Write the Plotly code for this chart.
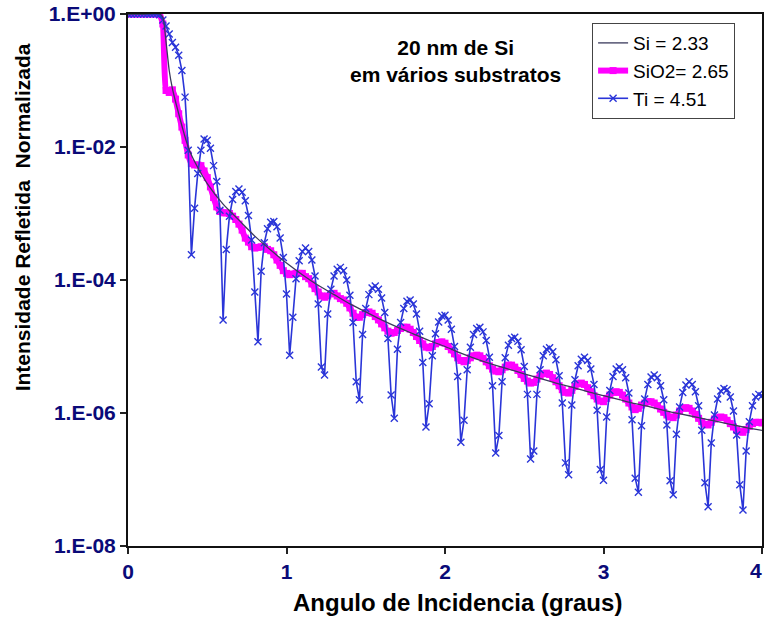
import numpy as np
import plotly.graph_objects as go

# ---- data (log10 of normalised reflected intensity) ----
# common angle grid for the SiO2 and Ti series (degrees), step 0.02
angle_deg = [round(0.02 * i, 2) for i in range(201)]

ti_log10 = [
    0, 0, 0, 0, 0, 0, 0, 0, 0, 0,
    -0.01, -0.09, -0.18, -0.30, -0.43, -0.50, -0.62, -0.85, -1.25, -2.05,
    -3.62, -2.92, -2.40, -2.05, -1.88, -1.90, -2.02, -2.28, -2.52, -2.95,
    -4.60, -3.54, -3.04, -2.79, -2.67, -2.63, -2.68, -2.81, -3.03, -3.40,
    -4.18, -4.93, -3.87, -3.44, -3.23, -3.13, -3.12, -3.20, -3.37, -3.66,
    -4.21, -5.13, -4.56, -3.98, -3.71, -3.57, -3.52, -3.57, -3.70, -3.94,
    -4.36, -5.31, -5.43, -4.51, -4.14, -3.94, -3.84, -3.81, -3.86, -4.00,
    -4.23, -4.64, -5.53, -5.80, -4.82, -4.43, -4.22, -4.12, -4.09, -4.14,
    -4.27, -4.49, -4.88, -5.73, -6.08, -5.04, -4.64, -4.43, -4.32, -4.30,
    -4.36, -4.51, -4.77, -5.24, -6.21, -5.86, -5.14, -4.81, -4.63, -4.54,
    -4.53, -4.60, -4.74, -5.00, -5.45, -6.44, -6.11, -5.35, -5.01, -4.82,
    -4.73, -4.71, -4.78, -4.91, -5.16, -5.59, -6.60, -6.34, -5.53, -5.17,
    -4.98, -4.88, -4.86, -4.92, -5.05, -5.30, -5.72, -6.69, -6.57, -5.72,
    -5.35, -5.14, -5.04, -5.02, -5.08, -5.20, -5.44, -5.85, -6.75, -6.93,
    -5.88, -5.50, -5.29, -5.19, -5.16, -5.21, -5.34, -5.57, -5.96, -6.85,
    -7.01, -6.06, -5.66, -5.45, -5.34, -5.31, -5.35, -5.47, -5.70, -6.10,
    -6.98, -7.19, -6.19, -5.79, -5.57, -5.46, -5.43, -5.47, -5.59, -5.80,
    -6.18, -7.02, -7.23, -6.32, -5.91, -5.69, -5.58, -5.53, -5.57, -5.68,
    -5.89, -6.26, -7.05, -7.41, -6.45, -6.03, -5.79, -5.67, -5.63, -5.65,
    -5.76, -5.97, -6.33, -7.08, -7.46, -6.57, -6.13, -5.89, -5.76, -5.72,
    -5.74,
]

sio2_log10 = [
    0, 0, 0, 0, 0, 0, 0, 0, 0, 0,
    -0.01, -0.15, -1.15, -1.18, -1.14, -1.28, -1.50, -1.70, -1.90, -2.12,
    -2.25, -2.27, -2.27, -2.28, -2.36, -2.46, -2.60, -2.76, -2.90, -2.97,
    -2.99, -2.99, -3.00, -3.04, -3.09, -3.16, -3.25, -3.37, -3.43, -3.50,
    -3.52, -3.51, -3.50, -3.50, -3.54, -3.56, -3.62, -3.70, -3.78, -3.86,
    -3.90, -3.92, -3.91, -3.90, -3.90, -3.90, -3.95, -3.98, -4.06, -4.13,
    -4.18, -4.24, -4.26, -4.24, -4.21, -4.20, -4.24, -4.28, -4.30, -4.35,
    -4.42, -4.50, -4.56, -4.56, -4.52, -4.49, -4.48, -4.50, -4.55, -4.60,
    -4.66, -4.72, -4.77, -4.80, -4.79, -4.76, -4.73, -4.71, -4.71, -4.74,
    -4.79, -4.85, -4.91, -4.96, -5.01, -5.02, -5.00, -4.96, -4.94, -4.93,
    -4.95, -5.00, -5.05, -5.11, -5.17, -5.21, -5.23, -5.21, -5.17, -5.14,
    -5.13, -5.14, -5.18, -5.23, -5.29, -5.34, -5.37, -5.38, -5.35, -5.31,
    -5.28, -5.28, -5.31, -5.36, -5.42, -5.48, -5.52, -5.55, -5.54, -5.49,
    -5.44, -5.41, -5.40, -5.42, -5.47, -5.53, -5.59, -5.65, -5.69, -5.70,
    -5.66, -5.60, -5.56, -5.55, -5.57, -5.62, -5.68, -5.74, -5.79, -5.82,
    -5.83, -5.78, -5.73, -5.69, -5.68, -5.69, -5.73, -5.79, -5.85, -5.91,
    -5.95, -5.93, -5.88, -5.85, -5.83, -5.83, -5.85, -5.89, -5.94, -5.99,
    -6.03, -6.06, -6.07, -6.03, -5.97, -5.93, -5.92, -5.93, -5.97, -6.02,
    -6.08, -6.13, -6.17, -6.18, -6.14, -6.09, -6.07, -6.06, -6.07, -6.11,
    -6.16, -6.21, -6.26, -6.28, -6.29, -6.25, -6.20, -6.16, -6.14, -6.14,
    -6.15,
]

si_angle_deg = [0, 0.1, 0.2, 0.22, 0.24, 0.26, 0.28, 0.30, 0.32, 0.34, 0.36, 0.38,
                0.40, 0.45, 0.50, 0.6, 0.7, 0.8, 0.9, 1.0, 1.1, 1.2, 1.3, 1.4, 1.5,
                1.6, 1.7, 1.8, 1.9, 2.0, 2.1, 2.2, 2.3, 2.4, 2.5, 2.6, 2.7, 2.8, 2.9,
                3.0, 3.1, 3.2, 3.3, 3.4, 3.5, 3.6, 3.7, 3.8, 3.9, 4.0]
si_log10 = [0, 0, 0, -0.05, -0.42, -0.85, -1.12, -1.32, -1.50, -1.68, -1.85, -2.00,
            -2.12, -2.35, -2.55, -2.86, -3.10, -3.34, -3.55, -3.745, -3.92, -4.08,
            -4.22, -4.36, -4.48, -4.60, -4.71, -4.81, -4.91, -5.00, -5.10, -5.19,
            -5.27, -5.34, -5.41, -5.48, -5.55, -5.61, -5.68, -5.74, -5.80, -5.86,
            -5.91, -5.97, -6.02, -6.07, -6.12, -6.17, -6.22, -6.26]

series_names = ["Si = 2.33", "SiO2= 2.65", "Ti = 4.51"]
y_tick_vals = [1, 1e-2, 1e-4, 1e-6, 1e-8]
y_tick_text = ["1.E+00", "1.E-02", "1.E-04", "1.E-06", "1.E-08"]
x_tick_vals = [0, 1, 2, 3, 4]
x_tick_text = ["0", "1", "2", "3", "4"]

FONT = "Liberation Sans, Arial, sans-serif"
NAVY = "#0a0a78"
BLUE = "#2a35d8"
MAGENTA = "#ff00ff"
SI_COLOR = "#3a3a5c"

fig = go.Figure()
fig.add_trace(go.Scatter(
    x=angle_deg, y=10 ** np.array(sio2_log10), name=series_names[1], mode="lines+markers",
    line=dict(color=MAGENTA, width=6, shape="spline", smoothing=0.5),
    marker=dict(symbol="square", size=7, color=MAGENTA),
    legendrank=2))
fig.add_trace(go.Scatter(
    x=angle_deg, y=10 ** np.array(ti_log10), name=series_names[2], mode="lines+markers",
    line=dict(color=BLUE, width=1.6),
    marker=dict(symbol="x-thin-open", size=7, color=BLUE, line=dict(width=1.4, color=BLUE)),
    legendrank=3))
fig.add_trace(go.Scatter(
    x=si_angle_deg, y=10 ** np.array(si_log10), name=series_names[0], mode="lines",
    line=dict(color=SI_COLOR, width=1.3, shape="spline", smoothing=0.6), legendrank=1))

# last x tick label is placed as an annotation flush with the right edge so it stays visible
x_labels_shown = [f"<b>{t}</b>" for t in x_tick_text[:-1]] + [""]

fig.update_layout(
    width=765, height=621,
    margin=dict(l=128, r=3, t=14, b=75, autoexpand=False),
    paper_bgcolor="white", plot_bgcolor="white",
    font=dict(family=FONT, color="black"),
    showlegend=True,
    legend=dict(x=0.732, y=0.983, xanchor="left", yanchor="top",
                bgcolor="white", bordercolor="#444444", borderwidth=1,
                font=dict(family=FONT, size=19, color="black"),
                itemwidth=30, tracegroupgap=4),
    annotations=[
        dict(text="<b>20 nm de Si<br>em vários substratos</b>", x=0.516, y=0.912,
             xref="paper", yref="paper", showarrow=False, xanchor="center", yanchor="middle",
             font=dict(family=FONT, size=21, color="black"), align="center"),
        dict(text="<b>Intensidade Refletida\u00a0 Normalizada</b>", x=-0.167, y=0.618,
             xref="paper", yref="paper", showarrow=False, textangle=-90,
             xanchor="center", yanchor="middle",
             font=dict(family=FONT, size=21, color="black")),
        dict(text="<b>Angulo de Incidencia (graus)</b>", x=0.52, y=-0.107,
             xref="paper", yref="paper", showarrow=False, xanchor="center", yanchor="middle",
             font=dict(family=FONT, size=24, color="black")),
        dict(text=f"<b>{x_tick_text[-1]}</b>", x=1.0035, y=-0.046, xref="paper", yref="paper",
             showarrow=False, xanchor="right", yanchor="middle",
             font=dict(family=FONT, size=21, color=NAVY)),
    ],
)
fig.update_xaxes(range=[0, 4], tickvals=x_tick_vals, ticktext=x_labels_shown,
                 ticks="outside", ticklen=6, tickwidth=2, automargin=False,
                 tickcolor="#222222", showgrid=False, zeroline=False, showline=True,
                 linecolor="#111111", linewidth=2, mirror=True,
                 tickfont=dict(family=FONT, size=21, color=NAVY))
fig.update_yaxes(type="log", range=[-8, 0], tickvals=y_tick_vals, ticktext=[f"<b>{t}</b>" for t in y_tick_text],
                 ticks="outside", ticklen=6, tickwidth=2, tickcolor="#222222", showgrid=False, automargin=False,
                 zeroline=False, showline=True, linecolor="#111111", linewidth=2, mirror=True,
                 tickfont=dict(family=FONT, size=21, color=NAVY))

fig.write_html("out.html")
